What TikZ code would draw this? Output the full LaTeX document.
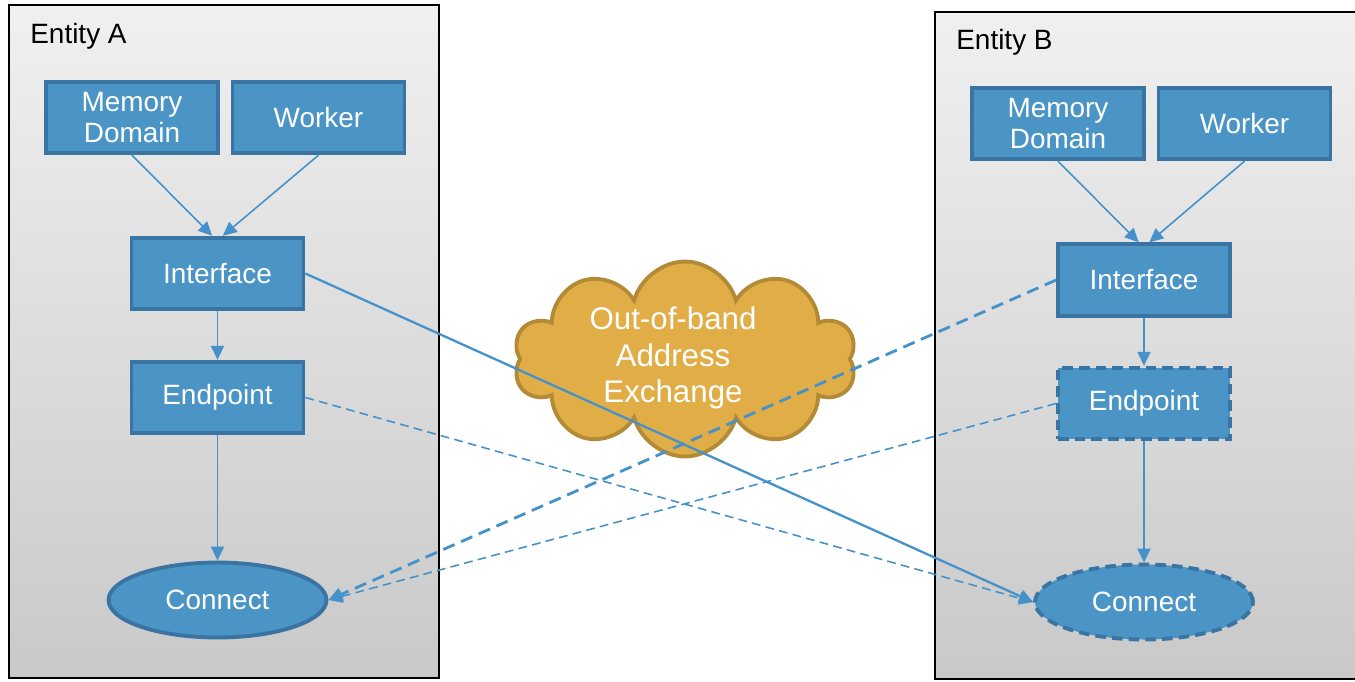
\documentclass[tikz,border=0pt]{standalone}
\usepackage{fontspec}
\setmainfont{Liberation Sans}
\usetikzlibrary{arrows.meta,shapes.geometric,shapes.symbols}
\definecolor{boxfill}{HTML}{4A94C6}
\definecolor{boxline}{HTML}{3A74A2}
\definecolor{linkcol}{HTML}{4592CA}
\definecolor{cloudfill}{HTML}{E1AD46}
\definecolor{cloudline}{HTML}{B38A36}
\definecolor{entitytop}{HTML}{F0F0F0}
\definecolor{entitybot}{HTML}{C9C9C9}
\begin{document}
\begin{tikzpicture}[x=0.02cm, y=-0.02cm,
    entity/.style={draw=black, line width=1.1pt, top color=entitytop, bottom color=entitybot},
    block/.style={rectangle, draw=boxline, fill=boxfill, line width=2.2pt, text=white, align=center,
      minimum width=3.44cm, minimum height=1.43cm, inner sep=0pt, font=\fontsize{15.9}{17.6}\selectfont},
    oval/.style={ellipse, draw=boxline, fill=boxfill, line width=2.2pt, text=white,
      minimum width=4.36cm, minimum height=1.5cm, font=\fontsize{15.9}{17.6}\selectfont},
    dashedge/.style={dash pattern=on 6pt off 3.5pt},
    link/.style={draw=linkcol, line width=0.9pt, -{Triangle[length=0.28cm, width=0.26cm]}},
    title/.style={anchor=base west, inner sep=0pt, font=\fontsize{15.9}{17.6}\selectfont}]
    \clip (0,0) rectangle (1355,681);

    % Entity A
    \draw[entity] (9,5) rectangle (439,678);
    \node[title] (labA) at (30,43) {Entity A};
    \node[block] (memA) at (132,117.5) {Memory\\Domain};
    \node[block] (workA) at (318.5,117.5) {Worker};
    \node[block] (ifA) at (217.5,273.5) {Interface};
    \node[block] (epA) at (217.5,397.5) {Endpoint};
    \node[oval] (conA) at (217.5,600) {Connect};

    % Entity B
    \draw[entity] (935,12) rectangle (1380,679);
    \node[title] (labB) at (956,49) {Entity B};
    \node[block] (memB) at (1058,123.5) {Memory\\Domain};
    \node[block] (workB) at (1244.5,123.5) {Worker};
    \node[block] (ifB) at (1144,280) {Interface};
    \node[block, dashedge] (epB) at (1144,403.5) {Endpoint};
    \node[oval, dashedge] (conB) at (1144,602) {Connect};

    % Out-of-band exchange
    \node[cloud, cloud puffs=10, cloud ignores aspect, draw=cloudline, fill=cloudfill, line width=2.2pt,
      minimum width=6.85cm, minimum height=3.9cm] (oob) at (685,359) {};
    \node[text=white, align=center, font=\fontsize{17.8}{21}\selectfont] (oobtext) at (673,358)
      {Out-of-band\\Address\\Exchange};

    % local arrows
    \draw[link] (memA.south) -- ([xshift=-3pt]ifA.north);
    \draw[link] (workA.south) -- ([xshift=3pt]ifA.north);
    \draw[link] (ifA) -- (epA);
    \draw[link] (epA) -- (conA);
    \draw[link] (memB.south) -- ([xshift=-3pt]ifB.north);
    \draw[link] (workB.south) -- ([xshift=3pt]ifB.north);
    \draw[link] (ifB) -- (epB);
    \draw[link] (epB) -- (conB);

    % cross links
    \draw[link, line width=1.3pt] (ifA.east) -- (conB.west);
    \draw[link, dash pattern=on 5pt off 3pt] (epA.east) -- (conB.west);
    \draw[link, line width=1.6pt, dash pattern=on 7pt off 4pt] (ifB.west) -- (conA.east);
    \draw[link, dash pattern=on 5pt off 3pt] (epB.west) -- (conA.east);
\end{tikzpicture}
\end{document}
